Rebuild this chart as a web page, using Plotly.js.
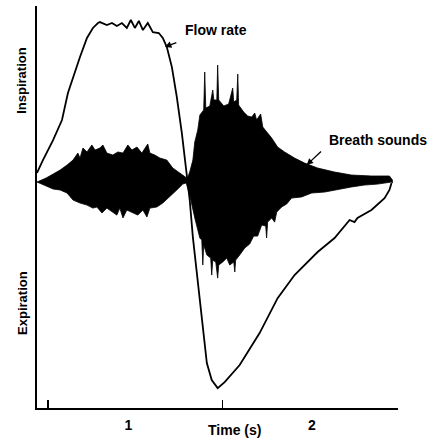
<!DOCTYPE html>
<html>
<head>
<meta charset="utf-8">
<script src="https://cdn.plot.ly/plotly-3.0.1.min.js"></script>
<style>
html,body{margin:0;padding:0;background:#fff;}
#chart{width:432px;height:439px;}
</style>
</head>
<body>
<div id="chart"></div>
<script>
// ---- Data (time in s, flow / sound amplitude in relative units) ----
var flowTime = [-0.063,-0.029,0.029,0.080,0.114,0.143,0.183,0.223,0.257,0.286,0.297,0.337,0.366,0.394,0.423,0.451,0.474,0.497,0.520,0.543,0.571,0.600,0.634,0.657,0.680,0.709,0.737,0.766,0.794,0.800,0.811,0.829,0.851,0.869,0.891,0.909,0.937,0.971,1.011,1.097,1.211,1.314,1.411,1.543,1.640,1.726,1.754,1.771,1.851,1.926,1.954,1.966];
var flowRate = [0.057,0.138,0.264,0.390,0.560,0.660,0.786,0.906,0.969,1.000,1.006,0.987,1.000,0.981,1.000,0.969,1.019,0.969,1.013,0.956,1.000,0.943,0.937,0.906,0.849,0.723,0.535,0.308,0.057,0.000,-0.113,-0.346,-0.553,-0.761,-0.962,-1.138,-1.245,-1.296,-1.258,-1.151,-0.950,-0.730,-0.585,-0.440,-0.352,-0.239,-0.252,-0.226,-0.176,-0.101,-0.050,-0.006];

// Inspiratory breath sounds: envelope
var insUpperT = [-0.063,-0.011,0.029,0.069,0.109,0.143,0.171,0.183,0.200,0.223,0.251,0.269,0.297,0.314,0.337,0.371,0.400,0.429,0.457,0.480,0.509,0.537,0.571,0.583,0.611,0.640,0.680,0.714,0.754,0.794,0.806];
var insUpperA = [0,0.025,0.050,0.075,0.107,0.138,0.182,0.151,0.214,0.189,0.233,0.201,0.214,0.233,0.182,0.170,0.189,0.182,0.233,0.201,0.220,0.182,0.239,0.182,0.170,0.151,0.138,0.088,0.057,0.025,0];
var insLowerT = [-0.063,-0.011,0.029,0.069,0.109,0.143,0.183,0.223,0.257,0.280,0.309,0.337,0.371,0.394,0.411,0.429,0.451,0.480,0.514,0.543,0.566,0.583,0.623,0.657,0.697,0.737,0.771,0.806];
var insLowerA = [0,-0.025,-0.044,-0.050,-0.069,-0.113,-0.132,-0.145,-0.164,-0.157,-0.195,-0.164,-0.189,-0.208,-0.164,-0.226,-0.176,-0.189,-0.208,-0.176,-0.220,-0.164,-0.157,-0.132,-0.094,-0.050,-0.013,0];

// Expiratory breath sounds: envelope
var expUpperT = [0.789,0.811,0.829,0.840,0.857,0.869,0.891,0.897,0.903,0.926,0.943,0.949,0.966,0.971,0.977,1.006,1.034,1.057,1.063,1.080,1.086,1.091,1.120,1.143,1.166,1.183,1.194,1.217,1.229,1.257,1.280,1.314,1.354,1.411,1.469,1.543,1.640,1.737,1.851,1.954,1.971,1.971];
var expUpperA = [0,0.063,0.138,0.252,0.327,0.421,0.453,0.692,0.465,0.478,0.579,0.516,0.516,0.736,0.516,0.478,0.491,0.591,0.503,0.516,0.679,0.484,0.440,0.415,0.409,0.434,0.390,0.428,0.346,0.308,0.277,0.220,0.189,0.151,0.119,0.088,0.063,0.044,0.038,0.038,0.013,-0.006];
var expLowerT = [0.789,0.811,0.840,0.869,0.880,0.886,0.891,0.909,0.931,0.937,0.943,0.960,0.971,0.977,1.000,1.023,1.040,1.063,1.069,1.074,1.097,1.126,1.154,1.177,1.200,1.223,1.246,1.251,1.257,1.280,1.297,1.309,1.337,1.366,1.394,1.451,1.509,1.583,1.657,1.737,1.811,1.886,1.966];
var expLowerA = [0,-0.082,-0.226,-0.352,-0.365,-0.522,-0.396,-0.459,-0.478,-0.585,-0.491,-0.503,-0.604,-0.522,-0.503,-0.478,-0.522,-0.503,-0.566,-0.491,-0.459,-0.415,-0.390,-0.340,-0.340,-0.270,-0.277,-0.352,-0.252,-0.226,-0.252,-0.189,-0.157,-0.138,-0.101,-0.094,-0.069,-0.063,-0.050,-0.031,-0.019,-0.013,0];

// Axis ticks and labels
var tickTimes = [0, 1, 2];
var labelTimes = [0.46, 1.51];
var labelText = ["1", "2"];

// ---- Build polygons from the envelopes ----
function envelope(ut, ua, lt, la) {
  return {
    x: ut.concat(lt.slice().reverse()),
    y: ua.concat(la.slice().reverse())
  };
}
var ins = envelope(insUpperT, insUpperA, insLowerT, insLowerA);
var exp = envelope(expUpperT, expUpperA, expLowerT, expLowerA);

var FONT = 'Liberation Sans, Arial, sans-serif';

var traces = [
  {x: ins.x, y: ins.y, type: 'scatter', mode: 'lines', fill: 'toself',
   fillcolor: '#000', line: {color: '#000', width: 0.8}, hoverinfo: 'skip', showlegend: false},
  {x: exp.x, y: exp.y, type: 'scatter', mode: 'lines', fill: 'toself',
   fillcolor: '#000', line: {color: '#000', width: 0.8}, hoverinfo: 'skip', showlegend: false},
  {x: flowTime, y: flowRate, type: 'scatter', mode: 'lines',
   line: {color: '#000', width: 1.8}, hoverinfo: 'skip', showlegend: false},
  // invisible trace on overlaid axis for the "1" / "2" labels
  {x: labelTimes, y: [0, 0], xaxis: 'x2', type: 'scatter', mode: 'markers',
   marker: {opacity: 0}, hoverinfo: 'skip', showlegend: false}
];

var layout = {
  width: 432, height: 439,
  margin: {l: 37, r: 34, t: 6, b: 31, pad: 0},
  paper_bgcolor: '#fff', plot_bgcolor: '#fff',
  font: {family: FONT, color: '#000', size: 14},
  showlegend: false,
  xaxis: {
    range: [-0.063, 2.003], showgrid: false, zeroline: false,
    showline: true, linecolor: '#000', linewidth: 2, mirror: false,
    tickmode: 'array', tickvals: tickTimes, ticks: 'inside', ticklen: 8,
    tickwidth: 1.3, tickcolor: '#000', showticklabels: false, fixedrange: true
  },
  xaxis2: {
    overlaying: 'x', matches: 'x', anchor: 'y', side: 'bottom',
    showgrid: false, zeroline: false, showline: false,
    tickmode: 'array', tickvals: labelTimes, ticktext: labelText,
    ticks: 'outside', ticklen: 4, tickcolor: 'rgba(0,0,0,0)',
    tickfont: {family: FONT, size: 14, weight: 'bold', color: '#000'}
  },
  yaxis: {
    range: [-1.421, 1.107], showgrid: false, zeroline: false,
    showline: true, linecolor: '#000', linewidth: 2,
    ticks: '', showticklabels: false, fixedrange: true
  },
  annotations: [
    {text: 'Time (s)', xref: 'paper', yref: 'paper', x: 0.548, y: -0.055,
     xanchor: 'center', yanchor: 'middle', showarrow: false,
     font: {family: FONT, size: 14, weight: 'bold'}},
    {text: 'Inspiration', xref: 'paper', yref: 'paper', x: -0.042, y: 0.816,
     textangle: -90, xanchor: 'center', yanchor: 'middle', showarrow: false,
     font: {family: FONT, size: 13, weight: 'bold'}},
    {text: 'Expiration', xref: 'paper', yref: 'paper', x: -0.042, y: 0.261,
     textangle: -90, xanchor: 'center', yanchor: 'middle', showarrow: false,
     font: {family: FONT, size: 13, weight: 'bold'}},
    {text: 'Flow rate', xref: 'x', yref: 'y', x: 0.771, y: 0.956,
     xanchor: 'left', yanchor: 'middle', showarrow: false,
     font: {family: FONT, size: 14, weight: 'bold'}},
    {text: '', xref: 'x', yref: 'y', x: 0.669, y: 0.849,
     axref: 'x', ayref: 'y', ax: 0.743, ay: 0.881, showarrow: true,
     arrowhead: 2, arrowsize: 1, arrowwidth: 1.3, arrowcolor: '#000', standoff: 0},
    {text: 'Breath sounds', xref: 'x', yref: 'y', x: 1.594, y: 0.264,
     xanchor: 'left', yanchor: 'middle', showarrow: false,
     font: {family: FONT, size: 14, weight: 'bold'}},
    {text: '', xref: 'x', yref: 'y', x: 1.480, y: 0.107,
     axref: 'x', ayref: 'y', ax: 1.571, ay: 0.201, showarrow: true,
     arrowhead: 2, arrowsize: 1, arrowwidth: 1.3, arrowcolor: '#000', standoff: 0}
  ]
};

Plotly.newPlot('chart', traces, layout, {staticPlot: true, displayModeBar: false});
</script>
</body>
</html>
